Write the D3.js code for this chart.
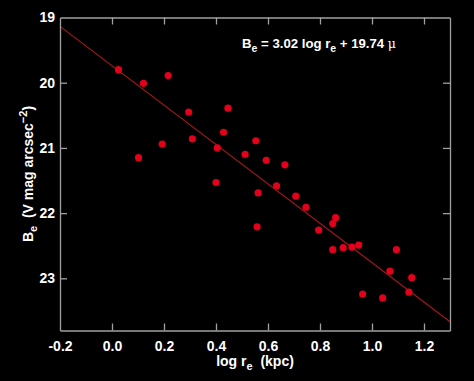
<!DOCTYPE html>
<html><head><meta charset="utf-8">
<script src="https://cdn.jsdelivr.net/npm/d3@7"></script>
<style>
html,body{margin:0;padding:0;background:#000;}
svg{display:block;}
text{font-family:"Liberation Sans",Arial,Helvetica,sans-serif;font-weight:bold;fill:#fff;}
</style></head>
<body>
<svg id="chart" width="474" height="381"></svg>
<script>
const logRe = [0.025,0.121,0.216,0.295,0.446,0.429,0.309,0.193,0.405,0.102,0.400,0.553,0.512,0.593,0.665,0.633,0.562,0.707,0.746,0.558,0.795,0.860,0.849,0.849,0.889,0.923,0.949,1.094,1.069,1.153,0.964,1.041,1.142];
const Be =    [19.80,20.01,19.89,20.45,20.39,20.76,20.86,20.94,21.00,21.15,21.53,20.89,21.10,21.19,21.26,21.58,21.69,21.74,21.91,22.21,22.26,22.07,22.16,22.56,22.53,22.52,22.49,22.56,22.89,22.99,23.24,23.30,23.21];
const fitSlope = 3.02, fitIntercept = 19.74;
const xTicks = [-0.2,0.0,0.2,0.4,0.6,0.8,1.0,1.2];
const xTickLabels = ["-0.2","0.0","0.2","0.4","0.6","0.8","1.0","1.2"];
const yTicks = [19,20,21,22,23];
const yTickLabels = ["19","20","21","22","23"];
const xDomain = [-0.2,1.3], yDomain = [19,23.8];

const svg = d3.select("#chart");
const L=60,R=450,T=17.5,B=330.5;
const x = d3.scaleLinear().domain(xDomain).range([L,R]);
const y = d3.scaleLinear().domain(yDomain).range([T,B]);
const axisCol="#a0a0a0", tl=7;

// fit line
svg.append("line")
  .attr("x1",x(xDomain[0])).attr("y1",y(fitSlope*xDomain[0]+fitIntercept))
  .attr("x2",x(xDomain[1])).attr("y2",y(fitSlope*xDomain[1]+fitIntercept))
  .attr("stroke","#a81818").attr("stroke-width",1.1);

// points
svg.append("g").selectAll("circle").data(logRe.map((v,i)=>[v,Be[i]])).join("circle")
  .attr("cx",d=>x(d[0])).attr("cy",d=>y(d[1])).attr("r",3.6).attr("fill","#e3001b");

// axes (ticks inward)
const gB = svg.append("g").attr("transform",`translate(0,${B})`)
  .call(d3.axisBottom(x).tickValues(xTicks).tickSizeInner(-tl).tickSizeOuter(0).tickPadding(11).tickFormat((d,i)=>xTickLabels[i]));
const gT = svg.append("g").attr("transform",`translate(0,${T})`)
  .call(d3.axisTop(x).tickValues(xTicks).tickSizeInner(-tl).tickSizeOuter(0).tickFormat(""));
const gL = svg.append("g").attr("transform",`translate(${L},0)`)
  .call(d3.axisLeft(y).tickValues(yTicks).tickSizeInner(-tl).tickSizeOuter(0).tickPadding(5).tickFormat((d,i)=>yTickLabels[i]));
const gR = svg.append("g").attr("transform",`translate(${R},0)`)
  .call(d3.axisRight(y).tickValues(yTicks).tickSizeInner(-tl).tickSizeOuter(0).tickFormat(""));
[gB,gT,gL,gR].forEach(g=>{
  g.selectAll("path").attr("stroke",axisCol).attr("stroke-width",1.3);
  g.selectAll("line").attr("stroke",axisCol).attr("stroke-width",1.3);
  g.selectAll("text").attr("fill","#fff").attr("font-size",14).attr("font-family","Liberation Sans, Arial, sans-serif").attr("font-weight","bold");
});
// remove ticks at corners
gB.selectAll(".tick").filter(d=>d===-0.2).select("line").remove();
gT.selectAll(".tick").filter(d=>d===-0.2).select("line").remove();
gL.selectAll(".tick").filter(d=>d===19).select("line").remove();
gR.selectAll(".tick").filter(d=>d===19).select("line").remove();

// x title
const xt = svg.append("text").attr("x",(L+R)/2).attr("y",366).attr("text-anchor","middle").attr("font-size",14);
xt.append("tspan").text("log r");
xt.append("tspan").attr("font-size",11).attr("dy",4).text("e");
xt.append("tspan").attr("dy",-4).text("\u00a0 (kpc)");

// y title
const yt = svg.append("text").attr("transform",`translate(33,${(T+B)/2}) rotate(-90)`).attr("text-anchor","middle").attr("font-size",14);
yt.append("tspan").text("B");
yt.append("tspan").attr("font-size",11).attr("dy",4).text("e");
yt.append("tspan").attr("dy",-4).text("\u00a0 (V mag arcsec");
yt.append("tspan").attr("font-size",11).attr("dy",-6).text("\u22122");
yt.append("tspan").attr("dy",6).text(")");

// equation
const eq = svg.append("text").attr("x",242).attr("y",48).attr("font-size",13.2);
eq.append("tspan").text("B");
eq.append("tspan").attr("font-size",10.5).attr("dy",4).text("e");
eq.append("tspan").attr("dy",-4).text(` = ${fitSlope.toFixed(2)} log r`);
eq.append("tspan").attr("font-size",10.5).attr("dy",4).text("e");
eq.append("tspan").attr("dy",-4).text(` + ${fitIntercept.toFixed(2)} `);
eq.append("tspan").attr("font-weight","normal").attr("font-family","DejaVu Serif, serif").attr("font-size",12.5).text("\u03bc");
</script>
</body></html>
